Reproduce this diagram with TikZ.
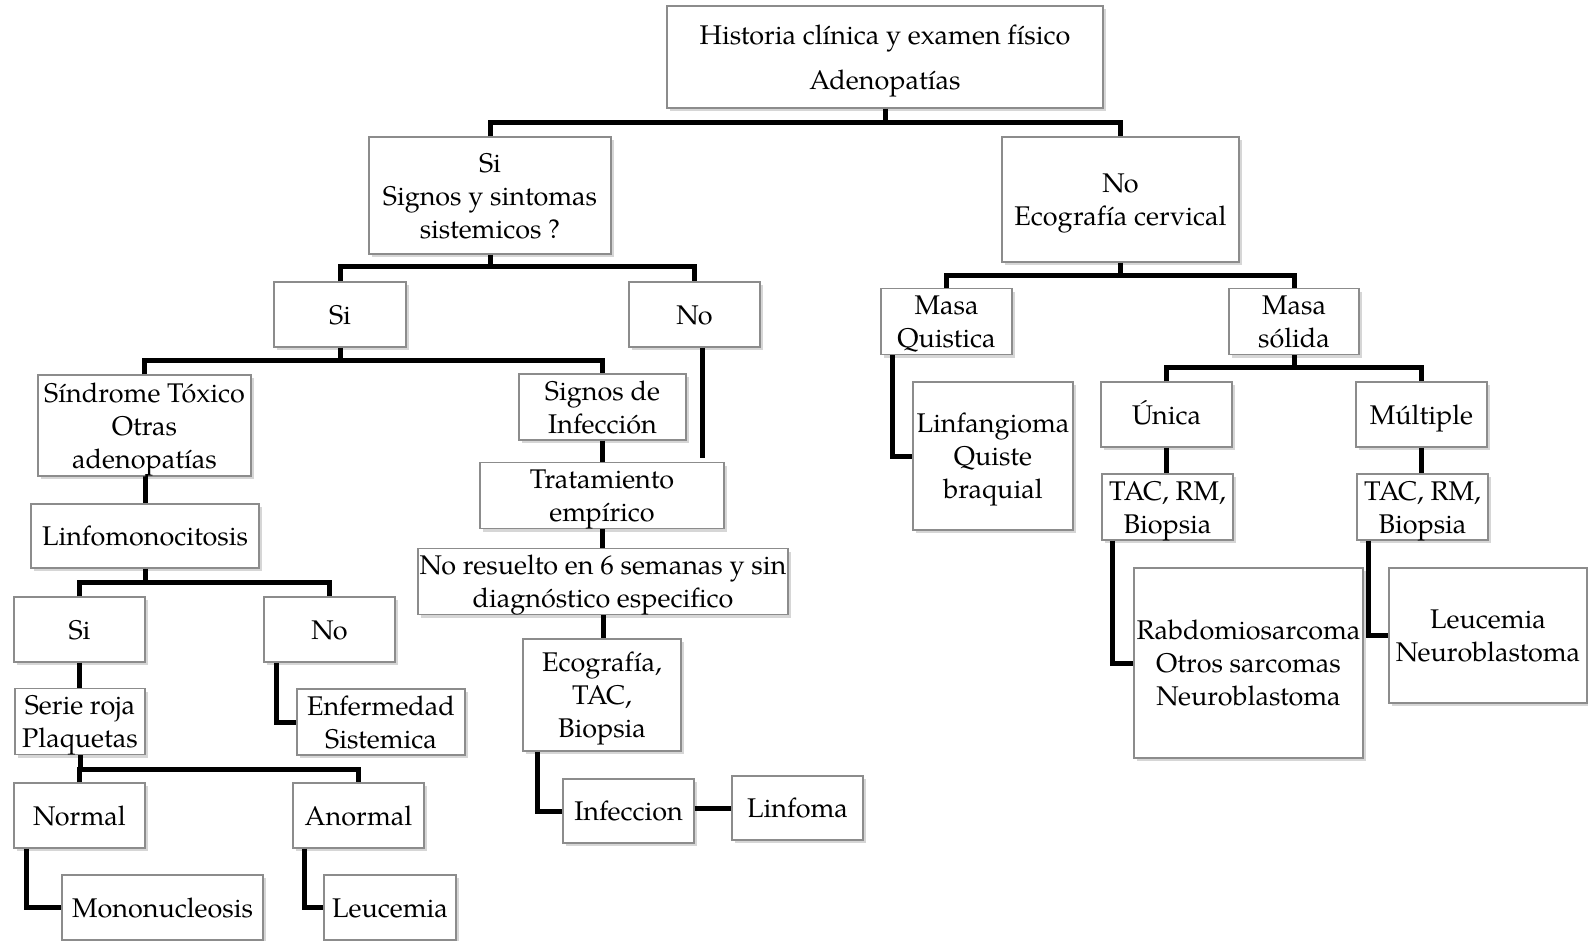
\documentclass[tikz,border=0pt]{standalone}
\usepackage{fontspec}
\setmainfont{TeX Gyre Pagella}
\usetikzlibrary{shadows}
\newcommand{\bt}[1]{\raisebox{-3pt}[\height][\depth]{\begin{tabular}{@{}c@{}}#1\end{tabular}}}
\begin{document}
\begin{tikzpicture}[x=1pt,y=-1pt,
  bx/.style={draw=black!45, line width=1.1pt, fill=white, inner sep=0pt,
    font=\fontsize{27}{33}\selectfont,
    drop shadow={shadow xshift=2.5pt, shadow yshift=-3pt, fill=black!40, opacity=0.4}},
  con/.style={line width=5pt, black}]
\useasboundingbox (0,0) rectangle (1588,940);
% nodes
\node[bx, minimum width=436pt, minimum height=102pt] (hist) at (885,57) {\bt{Historia clínica y examen físico\\[12pt]Adenopatías}};
\node[bx, minimum width=242pt, minimum height=117pt] (sis) at (490,195.5) {\bt{Si\\Signos y sintomas\\sistemicos ?}};
\node[bx, minimum width=237pt, minimum height=125pt] (noeco) at (1120.5,199.5) {\bt{No\\Ecografía cervical}};
\node[bx, minimum width=132pt, minimum height=65pt] (si2) at (340,314.5) {\bt{Si}};
\node[bx, minimum width=131pt, minimum height=65pt] (no2) at (694.5,314.5) {\bt{No}};
\node[bx, minimum width=213pt, minimum height=101pt] (sind) at (144.5,425.5) {\bt{Síndrome Tóxico\\Otras\\adenopatías}};
\node[bx, minimum width=228pt, minimum height=64pt] (linfo) at (145,536) {\bt{Linfomonocitosis}};
\node[bx, minimum width=167pt, minimum height=64pt] (sinf) at (602.5,407) {\bt{Signos de\\Infección}};
\node[bx, minimum width=244pt, minimum height=55pt] (trat) at (602,495.5) {\bt{Tratamiento\\empírico}};
\node[bx, minimum width=370pt, minimum height=59pt] (nores) at (603,581.5) {\bt{No resuelto en 6 semanas y sin\\diagnóstico especifico}};
\node[bx, minimum width=158pt, minimum height=112pt] (ecotac) at (602,695) {\bt{Ecografía,\\TAC,\\Biopsia}};
\node[bx, minimum width=131pt, minimum height=64pt] (infec) at (628.5,811) {\bt{Infeccion}};
\node[bx, minimum width=131pt, minimum height=64pt] (linfoma) at (797.5,808) {\bt{Linfoma}};
\node[bx, minimum width=131pt, minimum height=65pt] (si3) at (79.5,629.5) {\bt{Si}};
\node[bx, minimum width=131pt, minimum height=65pt] (no3) at (329.5,629.5) {\bt{No}};
\node[bx, minimum width=130pt, minimum height=65pt] (serie) at (80,721.5) {\bt{Serie roja\\Plaquetas}};
\node[bx, minimum width=168pt, minimum height=66pt] (enf) at (381,722) {\bt{Enfermedad\\Sistemica}};
\node[bx, minimum width=131pt, minimum height=65pt] (normal) at (79.5,815.5) {\bt{Normal}};
\node[bx, minimum width=131pt, minimum height=65pt] (anormal) at (358.5,815.5) {\bt{Anormal}};
\node[bx, minimum width=201pt, minimum height=65pt] (mono) at (162.5,907.5) {\bt{Mononucleosis}};
\node[bx, minimum width=132pt, minimum height=65pt] (leuc1) at (390,907.5) {\bt{Leucemia}};
\node[bx, minimum width=131pt, minimum height=65pt] (masaq) at (946.5,321.5) {\bt{Masa\\Quistica}};
\node[bx, minimum width=130pt, minimum height=65pt] (masas) at (1294,321.5) {\bt{Masa\\sólida}};
\node[bx, minimum width=160pt, minimum height=148pt] (linfang) at (993,456) {\bt{Linfangioma\\Quiste\\braquial}};
\node[bx, minimum width=131pt, minimum height=65pt] (unica) at (1166.5,414.5) {\bt{Única}};
\node[bx, minimum width=131pt, minimum height=65pt] (multi) at (1421.5,414.5) {\bt{Múltiple}};
\node[bx, minimum width=131pt, minimum height=64pt] (tac1) at (1167.5,507) {\bt{TAC, RM,\\Biopsia}};
\node[bx, minimum width=131pt, minimum height=64pt] (tac2) at (1422.5,507) {\bt{TAC, RM,\\Biopsia}};
\node[bx, minimum width=229pt, minimum height=190pt] (rabdo) at (1248.5,663) {\bt{Rabdomiosarcoma\\Otros sarcomas\\Neuroblastoma}};
\node[bx, minimum width=198pt, minimum height=135pt] (leuc2) at (1488,635.5) {\bt{Leucemia\\Neuroblastoma}};
% bus coordinates
\coordinate (b1) at (0,122);
\coordinate (b2) at (0,266);
\coordinate (b3) at (0,360);
\coordinate (b4) at (0,582);
\coordinate (b5) at (0,769);
\coordinate (b6) at (0,275);
\coordinate (b7) at (0,367);
\coordinate (noend) at (702,458);
% connectors
\draw[con] (hist.south) -- (hist.south |- b1);
\draw[con] (sis.north) -- (sis.north |- b1) -| (noeco.north);
\draw[con] (sis.south) -- (sis.south |- b2);
\draw[con] (si2.north) -- (si2.north |- b2) -| (no2.north);
\draw[con] (no2.south -| noend) -- (noend);
\draw[con] (si2.south) -- (si2.south |- b3);
\draw[con] (sind.north) -- (sind.north |- b3) -| (sinf.north);
\draw[con] (sind.south) -- (sind.south -| linfo.north) -- (linfo.north);
\draw[con] (linfo.south) -- (linfo.south |- b4);
\draw[con] (si3.north) -- (si3.north |- b4) -| (no3.north);
\draw[con] (si3.south) -- (serie.north -| si3.south);
\draw[con] ([xshift=13pt]no3.south west) |- (enf.west);
\draw[con] (serie.south) -- (serie.south |- b5);
\draw[con] (normal.north) -- (normal.north |- b5) -| (anormal.north);
\draw[con] ([xshift=13pt]normal.south west) |- (mono.west);
\draw[con] ([xshift=12pt]anormal.south west) |- (leuc1.west);
\draw[con] (sinf.south) -- (trat.north -| sinf.south);
\draw[con] (trat.south) -- (nores.north -| trat.south);
\draw[con] (nores.south) -- (ecotac.north -| nores.south);
\draw[con] ([xshift=15pt]ecotac.south west) |- (infec.west);
\draw[con] (linfoma.west -| infec.east) -- (linfoma.west);
\draw[con] (noeco.south) -- (noeco.south |- b6);
\draw[con] (masaq.north) -- (masaq.north |- b6) -| (masas.north);
\draw[con] ([xshift=12pt]masaq.south west) |- (linfang.west);
\draw[con] (masas.south) -- (masas.south |- b7);
\draw[con] (unica.north) -- (unica.north |- b7) -| (multi.north);
\draw[con] (unica.south) -- (tac1.north -| unica.south);
\draw[con] (multi.south) -- (tac2.north -| multi.south);
\draw[con] ([xshift=11pt]tac1.south west) |- (rabdo.west);
\draw[con] ([xshift=12pt]tac2.south west) |- (leuc2.west);
\end{tikzpicture}
\end{document}
